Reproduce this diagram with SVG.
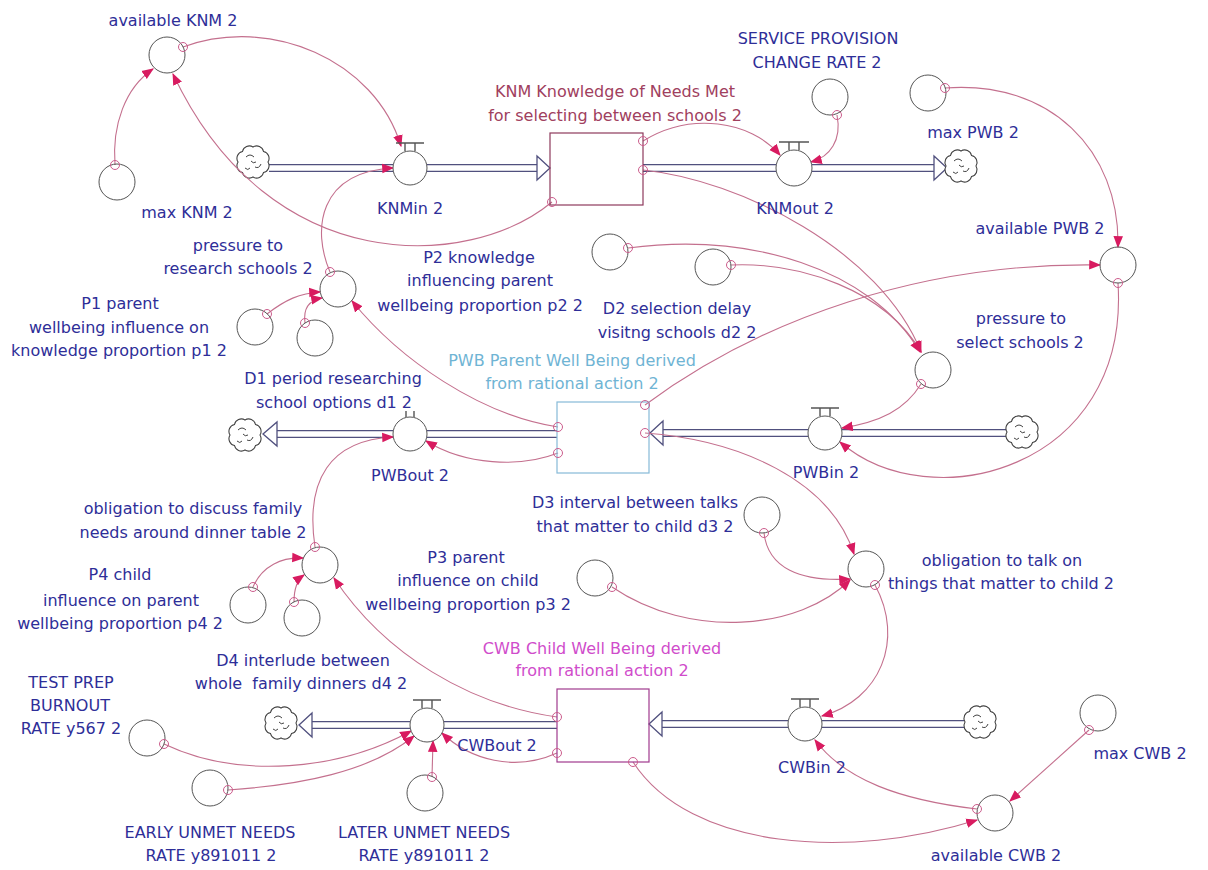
<svg xmlns="http://www.w3.org/2000/svg" xmlns:xlink="http://www.w3.org/1999/xlink" width="1208" height="870" viewBox="0 0 1208 870">
<style>
.lbl{font-family:"DejaVu Sans","Liberation Sans",sans-serif;font-size:16px;fill:#2E2E98;text-anchor:middle;white-space:pre}
.knm{fill:#A0405E}
.pwb{fill:#6FB4D4}
.cwb{fill:#D04CCB}
.aux{fill:none;stroke:#555;stroke-width:1}
.valve{fill:#fff;stroke:#555;stroke-width:1}
.vbar{fill:none;stroke:#555;stroke-width:1.4}
.conn{fill:none;stroke:#C4708E;stroke-width:1.1;marker-end:url(#ah)}
.hdl{fill:none;stroke:#CC5C8C;stroke-width:1}
.po{fill:none;stroke:#50507E;stroke-width:8}
.pi{fill:none;stroke:#fff;stroke-width:5.4}
.pa{fill:#fff;stroke:#50507E;stroke-width:1.3}
.cl{fill:#fff;stroke:#444;stroke-width:1.1}
</style>
<defs>
<marker id="ah" viewBox="0 0 10 10" refX="9" refY="5" markerWidth="12" markerHeight="12" markerUnits="userSpaceOnUse" orient="auto">
<path d="M0,1 L10,5 L0,9 z" fill="#D81B60"/>
</marker>
<g id="cloud">
<path class="cl" d="M-15,0 A7,7 0 0 1 -10.5,-10.5 A7,7 0 0 1 0,-15 A7,7 0 0 1 10.5,-10.5 A7,7 0 0 1 15,0 A7,7 0 0 1 10.5,10.5 A7,7 0 0 1 0,15 A7,7 0 0 1 -10.5,10.5 A7,7 0 0 1 -15,0 Z"/>
<path d="M-7,-5 q4,-4 8,0 M2,5 q4,2 6,-3 M-8,6 q3,3 5,0 M-2,-1 q2,3 5,1" fill="none" stroke="#444" stroke-width="1"/>
</g>
</defs>
<rect width="1208" height="870" fill="#fff"/>

<g id="pipes">
<path class="po" d="M269,168 H537"/><path class="pi" d="M269,168 H537"/>
<polygon class="pa" points="550,168 537,156 537,180"/>
<path class="po" d="M643,168 H934"/><path class="pi" d="M643,168 H934"/>
<polygon class="pa" points="947,168 934,156 934,180"/>
<path class="po" d="M557,434 H277"/><path class="pi" d="M557,434 H277"/>
<polygon class="pa" points="263,434 277,422 277,446"/>
<path class="po" d="M1006,433 H663"/><path class="pi" d="M1006,433 H663"/>
<polygon class="pa" points="650,433 663,421 663,445"/>
<path class="po" d="M557,725 H312"/><path class="pi" d="M557,725 H312"/>
<polygon class="pa" points="299,725 312,713 312,737"/>
<path class="po" d="M964,724 H662"/><path class="pi" d="M964,724 H662"/>
<polygon class="pa" points="649,724 662,712 662,736"/>
</g>

<g id="clouds">
<use xlink:href="#cloud" href="#cloud" transform="translate(253,162)"/>
<use xlink:href="#cloud" href="#cloud" transform="translate(961,166)"/>
<use xlink:href="#cloud" href="#cloud" transform="translate(245,435)"/>
<use xlink:href="#cloud" href="#cloud" transform="translate(1022,432)"/>
<use xlink:href="#cloud" href="#cloud" transform="translate(281,723)"/>
<use xlink:href="#cloud" href="#cloud" transform="translate(980,722)"/>
</g>

<g id="connectors">
<path class="conn" d="M115,165 C112,125 125,88 153,69"/>
<path class="conn" d="M183,47 C270,15 375,60 401,146"/>
<path class="conn" d="M552,202 C470,270 270,280 173,74"/>
<path class="conn" d="M330,272 C312,230 318,172 393,168"/>
<path class="conn" d="M267,314 C285,300 300,293 320,292"/>
<path class="conn" d="M305,323 C303,308 310,300 322,298"/>
<path class="conn" d="M558,427 C480,415 400,360 352,301"/>
<path class="conn" d="M643,141 C690,112 750,120 780,155"/>
<path class="conn" d="M837,115 C842,140 830,157 811,162"/>
<path class="conn" d="M643,170 C740,180 880,250 921,352"/>
<path class="conn" d="M628,248 C750,232 870,268 920,352"/>
<path class="conn" d="M731,265 C800,262 885,290 921,352"/>
<path class="conn" d="M645,405 C760,320 920,262 1100,265"/>
<path class="conn" d="M945,88 C1050,80 1120,150 1118,247"/>
<path class="conn" d="M1118,283 C1130,470 930,520 840,442"/>
<path class="conn" d="M921,384 C905,410 880,422 842,428"/>
<path class="conn" d="M558,453 C520,468 465,465 426,441"/>
<path class="conn" d="M645,433 C740,440 830,480 854,554"/>
<path class="conn" d="M315,547 C305,480 330,440 393,437"/>
<path class="conn" d="M253,587 C262,566 282,557 303,558"/>
<path class="conn" d="M294,602 C294,588 297,580 304,575"/>
<path class="conn" d="M557,717 C470,705 385,655 334,578"/>
<path class="conn" d="M557,753 C515,772 470,760 442,733"/>
<path class="conn" d="M164,744 C240,780 340,770 411,731"/>
<path class="conn" d="M228,790 C300,785 370,772 414,736"/>
<path class="conn" d="M432,777 L433,741"/>
<path class="conn" d="M633,762 C690,850 850,860 977,820"/>
<path class="conn" d="M977,809 C900,800 845,780 815,740"/>
<path class="conn" d="M1089,730 L1010,801"/>
<path class="conn" d="M875,585 C905,640 880,700 822,716"/>
<path class="conn" d="M764,533 C768,568 800,582 850,579"/>
<path class="conn" d="M612,587 C690,640 800,630 850,580"/>
</g>

<g id="knm-stock">
<rect x="550" y="133" width="93" height="72" fill="none" stroke="#8E3A5C" stroke-width="1.2"/>
<text class="lbl knm" x="615" y="97">KNM Knowledge of Needs Met</text>
<text class="lbl knm" x="615" y="121">for selecting between schools 2</text>
<circle class="hdl" cx="643" cy="141" r="4.5"/><circle class="hdl" cx="643" cy="170" r="4.5"/><circle class="hdl" cx="552" cy="202" r="4.5"/>
</g>
<g id="pwb-stock">
<rect x="557" y="402" width="92" height="71" fill="none" stroke="#86BAD8" stroke-width="1.2"/>
<text class="lbl pwb" x="572" y="366">PWB Parent Well Being derived</text>
<text class="lbl pwb" x="572" y="389">from rational action 2</text>
<circle class="hdl" cx="558" cy="427" r="4.5"/><circle class="hdl" cx="558" cy="453" r="4.5"/><circle class="hdl" cx="645" cy="405" r="4.5"/><circle class="hdl" cx="645" cy="433" r="4.5"/>
</g>
<g id="cwb-stock">
<rect x="557" y="689" width="92" height="73" fill="none" stroke="#A03A8E" stroke-width="1.2"/>
<text class="lbl cwb" x="602" y="654">CWB Child Well Being derived</text>
<text class="lbl cwb" x="602" y="676">from rational action 2</text>
<circle class="hdl" cx="557" cy="717" r="4.5"/><circle class="hdl" cx="557" cy="753" r="4.5"/><circle class="hdl" cx="633" cy="762" r="4.5"/>
</g>

<g id="knmin">
<circle class="valve" cx="410" cy="168" r="17"/>
<path class="vbar" d="M396,143 H424 M405,143 V151 M415,143 V151"/>
<text class="lbl" x="410" y="214">KNMin 2</text>
</g>
<g id="knmout">
<circle class="valve" cx="794" cy="168" r="18"/>
<path class="vbar" d="M779,142 H809 M789,142 V150 M799,142 V150"/>
<text class="lbl" x="795" y="214">KNMout 2</text>
</g>
<g id="pwbout">
<circle class="valve" cx="410" cy="434" r="17"/>
<path class="vbar" d="M406,411 V417 M414,411 V417"/>
<text class="lbl" x="410" y="481">PWBout 2</text>
</g>
<g id="pwbin">
<circle class="valve" cx="825" cy="433" r="17"/>
<path class="vbar" d="M811,408 H839 M820,408 V416 M830,408 V416"/>
<text class="lbl" x="826" y="478">PWBin 2</text>
</g>
<g id="cwbout">
<circle class="valve" cx="427" cy="725" r="17"/>
<path class="vbar" d="M413,700 H441 M422,700 V708 M432,700 V708"/>
<text class="lbl" x="497" y="751">CWBout 2</text>
</g>
<g id="cwbin">
<circle class="valve" cx="805" cy="724" r="17"/>
<path class="vbar" d="M791,699 H819 M800,699 V707 M810,699 V707"/>
<text class="lbl" x="812" y="773">CWBin 2</text>
</g>

<g id="available-knm"><circle class="aux" cx="167" cy="55" r="18"/><circle class="hdl" cx="183" cy="47" r="4.5"/><text class="lbl" x="173" y="26">available KNM 2</text></g>
<g id="max-knm"><circle class="aux" cx="117" cy="182" r="18"/><circle class="hdl" cx="115" cy="165" r="4.5"/><text class="lbl" x="187" y="218">max KNM 2</text></g>
<g id="service"><circle class="aux" cx="830" cy="97" r="18"/><circle class="hdl" cx="837" cy="115" r="4.5"/><text class="lbl" x="818" y="44">SERVICE PROVISION</text><text class="lbl" x="817" y="68">CHANGE RATE 2</text></g>
<g id="max-pwb"><circle class="aux" cx="928" cy="93" r="18"/><circle class="hdl" cx="945" cy="88" r="4.5"/><text class="lbl" x="973" y="138">max PWB 2</text></g>
<g id="available-pwb"><circle class="aux" cx="1118" cy="265" r="18"/><circle class="hdl" cx="1118" cy="283" r="4.5"/><text class="lbl" x="1040" y="234">available PWB 2</text></g>
<g id="pressure-research"><circle class="aux" cx="338" cy="289" r="18"/><circle class="hdl" cx="330" cy="272" r="4.5"/><text class="lbl" x="238" y="251">pressure to</text><text class="lbl" x="238" y="274">research schools 2</text></g>
<g id="p1"><circle class="aux" cx="255" cy="327" r="18"/><circle class="hdl" cx="267" cy="314" r="4.5"/><text class="lbl" x="120" y="309">P1 parent</text><text class="lbl" x="119" y="333">wellbeing influence on</text><text class="lbl" x="119" y="356">knowledge proportion p1 2</text></g>
<g id="d1"><circle class="aux" cx="315" cy="338" r="18"/><circle class="hdl" cx="305" cy="323" r="4.5"/><text class="lbl" x="333" y="384">D1 period researching</text><text class="lbl" x="334" y="408">school options d1 2</text></g>
<g id="p2"><circle class="aux" cx="610" cy="252" r="18"/><circle class="hdl" cx="628" cy="248" r="4.5"/><text class="lbl" x="479" y="263">P2 knowledge</text><text class="lbl" x="480" y="286">influencing parent</text><text class="lbl" x="480" y="311">wellbeing proportion p2 2</text></g>
<g id="d2"><circle class="aux" cx="713" cy="267" r="18"/><circle class="hdl" cx="731" cy="265" r="4.5"/><text class="lbl" x="677" y="314">D2 selection delay</text><text class="lbl" x="677" y="338">visitng schools d2 2</text></g>
<g id="pressure-select"><circle class="aux" cx="933" cy="370" r="18"/><circle class="hdl" cx="921" cy="384" r="4.5"/><text class="lbl" x="1021" y="324">pressure to</text><text class="lbl" x="1020" y="348">select schools 2</text></g>
<g id="d3"><circle class="aux" cx="762" cy="515" r="18"/><circle class="hdl" cx="764" cy="533" r="4.5"/><text class="lbl" x="635" y="508">D3 interval between talks</text><text class="lbl" x="635" y="532">that matter to child d3 2</text></g>
<g id="obligation-talk"><circle class="aux" cx="866" cy="569" r="18"/><circle class="hdl" cx="875" cy="585" r="4.5"/><text class="lbl" x="1002" y="566">obligation to talk on</text><text class="lbl" x="1001" y="589">things that matter to child 2</text></g>
<g id="p3"><circle class="aux" cx="595" cy="578" r="18"/><circle class="hdl" cx="612" cy="587" r="4.5"/><text class="lbl" x="466" y="563">P3 parent</text><text class="lbl" x="468" y="586">influence on child</text><text class="lbl" x="468" y="610">wellbeing proportion p3 2</text></g>
<g id="obligation-discuss"><circle class="aux" cx="320" cy="565" r="18"/><circle class="hdl" cx="315" cy="547" r="4.5"/><text class="lbl" x="193" y="514">obligation to discuss family</text><text class="lbl" x="193" y="538">needs around dinner table 2</text></g>
<g id="p4"><circle class="aux" cx="248" cy="605" r="18"/><circle class="hdl" cx="253" cy="587" r="4.5"/><text class="lbl" x="120" y="580">P4 child</text><text class="lbl" x="121" y="606">influence on parent</text><text class="lbl" x="120" y="629">wellbeing proportion p4 2</text></g>
<g id="d4"><circle class="aux" cx="302" cy="618" r="18"/><circle class="hdl" cx="294" cy="602" r="4.5"/><text class="lbl" x="303" y="666">D4 interlude between</text><text class="lbl" x="301" y="689" xml:space="preserve">whole  family dinners d4 2</text></g>
<g id="test-prep"><circle class="aux" cx="147" cy="738" r="18"/><circle class="hdl" cx="164" cy="744" r="4.5"/><text class="lbl" x="71" y="688">TEST PREP</text><text class="lbl" x="70" y="711">BURNOUT</text><text class="lbl" x="71" y="734">RATE y567 2</text></g>
<g id="early-unmet"><circle class="aux" cx="210" cy="788" r="18"/><circle class="hdl" cx="228" cy="790" r="4.5"/><text class="lbl" x="210" y="838">EARLY UNMET NEEDS</text><text class="lbl" x="211" y="861">RATE y891011 2</text></g>
<g id="later-unmet"><circle class="aux" cx="425" cy="793" r="18"/><circle class="hdl" cx="432" cy="777" r="4.5"/><text class="lbl" x="424" y="838">LATER UNMET NEEDS</text><text class="lbl" x="424" y="861">RATE y891011 2</text></g>
<g id="max-cwb"><circle class="aux" cx="1098" cy="713" r="18"/><circle class="hdl" cx="1089" cy="730" r="4.5"/><text class="lbl" x="1140" y="759">max CWB 2</text></g>
<g id="available-cwb"><circle class="aux" cx="995" cy="813" r="18"/><circle class="hdl" cx="977" cy="809" r="4.5"/><text class="lbl" x="996" y="861">available CWB 2</text></g>
</svg>
